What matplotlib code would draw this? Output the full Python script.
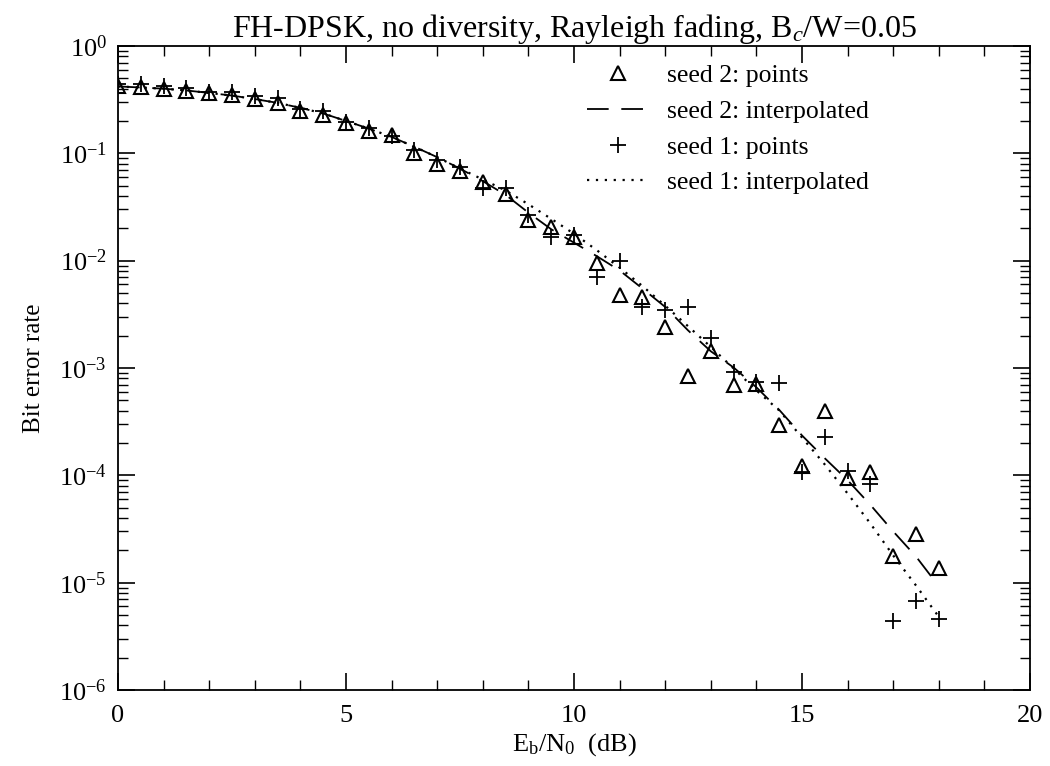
import numpy as np
import matplotlib
matplotlib.use("Agg")
import matplotlib.pyplot as plt
from matplotlib.ticker import LogLocator, MultipleLocator, LogFormatterMathtext, NullFormatter

plt.rcParams['font.family'] = ['Liberation Serif', 'DejaVu Serif']
plt.rcParams['mathtext.fontset'] = 'custom'
plt.rcParams['mathtext.rm'] = 'Liberation Serif'
plt.rcParams['mathtext.it'] = 'Liberation Serif:italic'

# Eb/N0 grid of the simulated points (dB)
snr_db = [0, 0.5, 1, 1.5, 2, 2.5, 3, 3.5, 4, 4.5, 5, 5.5, 6, 6.5, 7, 7.5, 8, 8.5,
          9, 9.5, 10, 10.5, 11, 11.5, 12, 12.5, 13, 13.5, 14, 14.5, 15, 15.5,
          16, 16.5, 17, 17.5, 18]

# seed 2 simulated BER (triangles)
ber_seed2 = [0.42, 0.417, 0.40, 0.383, 0.362, 0.349, 0.318, 0.296, 0.249, 0.227,
             0.19, 0.162, 0.148, 0.0998, 0.079, 0.0687, 0.0542, 0.0422,
             0.0238, 0.0206, 0.0166, 0.0095, 0.00475, 0.00459, 0.00241, 0.000835,
             0.00143, 0.000689, 0.000714, 0.000292, 0.000123, 0.000394,
             9.4e-5, 1.07e-4, 1.79e-5, 2.85e-5, 1.37e-5]

# seed 1 simulated BER (plus signs)
ber_seed1 = [0.44, 0.44, 0.42, 0.405, 0.37, 0.37, 0.34, 0.33, 0.26, 0.25,
             0.195, 0.172, 0.145, 0.107, 0.086, 0.074, 0.047, 0.048,
             0.0266, 0.0166, 0.0173, 0.00705, 0.00994, 0.0037, 0.00345, 0.0037,
             0.00189, 0.00091, 0.000734, 0.000723, 0.000107, 0.000227,
             1.1e-4, 8.3e-5, 4.35e-6, 6.8e-6, 4.6e-6]

# interpolated curves
fit_x2 = snr_db[:-1] + [17.9]
fit_seed2 = [0.42, 0.41, 0.40, 0.385, 0.365, 0.345, 0.32, 0.295, 0.265, 0.235,
             0.20, 0.17, 0.142, 0.115, 0.092, 0.072, 0.055, 0.041,
             0.028, 0.0196, 0.0147, 0.011, 0.0081, 0.0055, 0.0037, 0.00224,
             0.00143, 0.00101, 0.00066, 0.000407, 0.000235, 0.000144,
             9.0e-5, 5.3e-5, 3.0e-5, 1.75e-5, 1.05e-5]
fit_x1 = snr_db
fit_seed1 = [0.42, 0.41, 0.40, 0.385, 0.365, 0.345, 0.32, 0.295, 0.265, 0.235,
             0.20, 0.17, 0.142, 0.115, 0.092, 0.072, 0.057, 0.045,
             0.0335, 0.0245, 0.0178, 0.0125, 0.0086, 0.0058, 0.0038, 0.00245,
             0.00157, 0.00099, 0.000618, 0.000402, 0.000225, 0.000126,
             6.76e-5, 3.55e-5, 1.79e-5, 9.4e-6, 4.8e-6]

y_decades = [1e-6, 1e-5, 1e-4, 1e-3, 1e-2, 1e-1, 1e0]
x_major = [0, 5, 10, 15, 20]

fig = plt.figure(figsize=(10.5, 7.66), dpi=100)
ax = fig.add_axes([0.1124, 0.0992, 0.8686, 0.8408])

ax.plot(snr_db, ber_seed2, linestyle='none', marker='^', ms=10, mfc='none',
        mec='black', mew=1.5, label='seed 2: points')
l2, = ax.plot(fit_x2, fit_seed2, color='black', lw=1.3, label='seed 2: interpolated')
l2.set_dashes([12, 7])
ax.plot(snr_db, ber_seed1, linestyle='none', marker='+', ms=12, mec='black',
        mew=1.3, label='seed 1: points')
l1, = ax.plot(fit_x1, fit_seed1, color='black', lw=1.6, label='seed 1: interpolated')
l1.set_dashes([1, 3])

ax.set_yscale('log')
ax.set_xlim(0, 20)
ax.set_ylim(1e-6, 1)
ax.set_xticks(x_major)
ax.xaxis.set_minor_locator(MultipleLocator(1))
ax.set_yticks(y_decades)
ax.yaxis.set_minor_locator(LogLocator(base=10, subs=np.arange(2, 10), numticks=10))
ax.yaxis.set_major_formatter(LogFormatterMathtext())
ax.yaxis.set_minor_formatter(NullFormatter())
ax.set_ylim(1e-6, 1)
ax.tick_params(which='both', direction='in', top=True, right=True, labelsize=19)
ax.tick_params(which='major', length=12, width=1.2, pad=8)
ax.tick_params(axis='x', which='major', pad=11)
ax.tick_params(which='minor', length=7, width=1.0)
for s in ax.spines.values():
    s.set_linewidth(1.3)

ax.set_title('FH-DPSK, no diversity, Rayleigh fading, B$_c$/W=0.05', fontsize=23, pad=4)
ax.set_xlabel('E$_\\mathrm{b}$/N$_0$  (dB)', fontsize=19, labelpad=3)
ax.set_ylabel('Bit error rate', fontsize=18, labelpad=10)

ax.legend(loc='upper left', bbox_to_anchor=(0.495, 1.0), frameon=False, fontsize=18.5,
          handlelength=2.4, handletextpad=0.7, labelspacing=0.5, numpoints=1,
          borderaxespad=0.3)

fig.savefig('out.png', dpi=100)
